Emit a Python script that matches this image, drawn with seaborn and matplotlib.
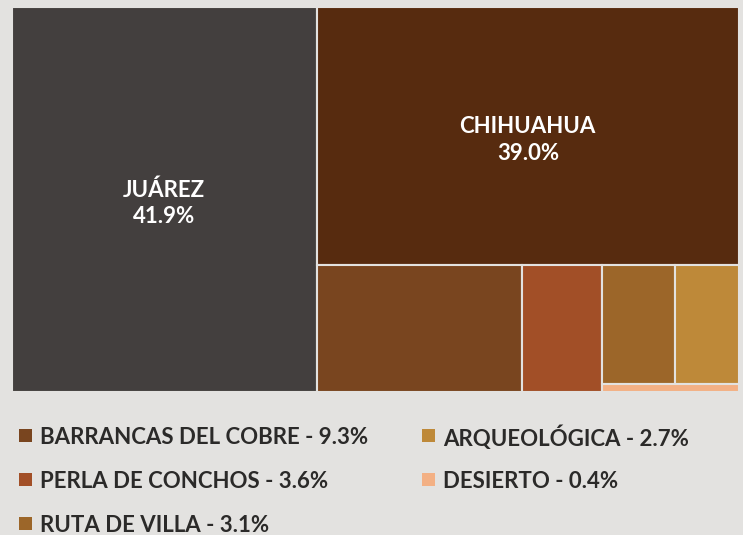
import matplotlib
matplotlib.use("Agg")
import matplotlib.pyplot as plt
from matplotlib.patches import Rectangle
import seaborn as sns

# Tourism share by region (percent)
regions = ["JUÁREZ", "CHIHUAHUA", "BARRANCAS DEL COBRE", "PERLA DE CONCHOS",
           "RUTA DE VILLA", "ARQUEOLÓGICA", "DESIERTO"]
shares = [41.9, 39.0, 9.3, 3.6, 3.1, 2.7, 0.4]
palette = ["#433f3e", "#572b0f", "#79451f", "#a24f27", "#9c6629", "#be8939", "#f3b084"]
labelled_in_box = [0, 1]
legend_items = [2, 3, 4, 5, 6]

# Nested split structure: ("x", ...) splits left-to-right, ("y", ...) top-to-bottom
tiling = ("x", [0, ("y", [1, ("x", [2, 3, ("y", [("x", [4, 5]), 6])])])])

BG = "#e3e2e0"
TEXT = "#2b2a29"
FONT_SIZE = 16

sns.set_theme(style="white")
plt.rcParams["font.family"] = ["Lato", "DejaVu Sans"]


def node_total(node):
    if isinstance(node, int):
        return shares[node]
    return sum(node_total(c) for c in node[1])


def place(node, x0, y0, x1, y1, out):
    if isinstance(node, int):
        out[node] = (x0, y0, x1, y1)
        return
    axis, children = node
    tot = node_total(node)
    pos = x0 if axis == "x" else y0
    for c in children:
        frac = node_total(c) / tot
        if axis == "x":
            w = (x1 - x0) * frac
            place(c, pos, y0, pos + w, y1, out)
            pos += w
        else:
            h = (y1 - y0) * frac
            place(c, x0, pos, x1, pos + h, out)
            pos += h


W, H = 743, 535
fig = plt.figure(figsize=(W / 100, H / 100), dpi=100, facecolor=BG)
ax = fig.add_axes([0, 0, 1, 1])
ax.set_facecolor(BG)
ax.set_xlim(0, W)
ax.set_ylim(H, 0)
ax.axis("off")

rects = {}
place(tiling, 12, 7, 739, 392, rects)

for i, (x0, y0, x1, y1) in rects.items():
    ax.add_patch(Rectangle((x0, y0), x1 - x0, y1 - y0, facecolor=palette[i],
                           edgecolor=BG, linewidth=1.5))

for i in labelled_in_box:
    x0, y0, x1, y1 = rects[i]
    cx, cy = (x0 + x1) / 2, (y0 + y1) / 2
    ax.text(cx, cy - 11.5, regions[i], color="white", fontsize=FONT_SIZE,
            fontweight="bold", ha="center", va="center_baseline")
    ax.text(cx, cy + 15, f"{shares[i]:.1f}%", color="white", fontsize=FONT_SIZE,
            fontweight="bold", ha="center", va="center_baseline")

# Legend for the small tiles: two columns, filled top to bottom
for k, i in enumerate(legend_items):
    col, row = divmod(k, 3)
    sx = 19 + col * 403
    ty = 435.5 + row * 44
    ax.add_patch(Rectangle((sx, ty - 6.5), 13, 13, facecolor=palette[i], edgecolor="none"))
    ax.text(sx + 21, ty, f"{regions[i]} - {shares[i]:.1f}%", color=TEXT, fontsize=FONT_SIZE,
            fontweight="bold", ha="left", va="center_baseline")

fig.savefig("out.png", dpi=100, facecolor=BG)
